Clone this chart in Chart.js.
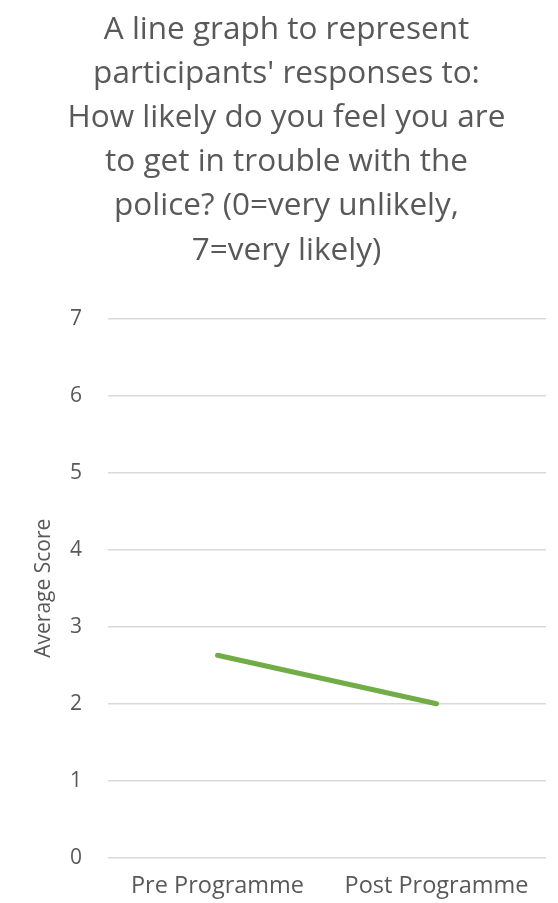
<!DOCTYPE html>
<html>
<head>
<meta charset="utf-8">
<script src="https://cdn.jsdelivr.net/npm/chart.js@4/dist/chart.umd.min.js"></script>
<style>
  html, body { margin: 0; padding: 0; background: #fff; }
  #wrap { width: 558px; height: 903px; }
</style>
</head>
<body>
<div id="wrap"><canvas id="chart"></canvas></div>
<script>
// data
const titleLines = [
  'A line graph to represent',
  "participants' responses to:",
  'How likely do you feel you are',
  'to get in trouble with the',
  'police? (0=very unlikely,',
  '7=very likely)',
];
const categories = ['Pre Programme', 'Post Programme'];
const averageScore = [2.63, 2.0];
const yTicks = [0, 1, 2, 3, 4, 5, 6, 7];

const grey = '#595959';
const font = "'Open Sans', 'Liberation Sans', sans-serif";

new Chart(document.getElementById('chart'), {
  type: 'line',
  data: {
    labels: categories,
    datasets: [{
      label: 'Average Score',
      data: averageScore,
      borderColor: '#70ad47',
      borderWidth: 5,
      borderCapStyle: 'round',
      pointRadius: 0,
      tension: 0,
    }],
  },
  options: {
    responsive: true,
    maintainAspectRatio: false,
    animation: false,
    layout: {padding: {top: 8, right: 12, bottom: -11, left: 27}},
    plugins: {
      legend: {display: false},
      tooltip: {enabled: false},
      title: {
        display: true,
        text: titleLines,
        color: grey,
        font: {family: font, size: 31.5, weight: 'normal', lineHeight: 1.4},
        padding: {top: 0, bottom: 46},
      },
    },
    scales: {
      x: {
        offset: true,
        grid: {display: false, drawTicks: false},
        border: {display: false},
        ticks: {color: grey, font: {family: font, size: 23.5}, padding: 14, maxRotation: 0},
      },
      y: {
        min: 0,
        max: 7,
        afterBuildTicks: (s) => { s.ticks = yTicks.map((v) => ({value: v})); },
        afterFit: (s) => { s.width = 81; },
        grid: {color: '#d9d9d9', lineWidth: 1.5, drawTicks: false},
        border: {display: false},
        ticks: {color: grey, font: {family: font, size: 21}, padding: 26},
        title: {display: true, text: 'Average Score', color: grey, font: {family: font, size: 21}},
      },
    },
  },
});
</script>
</body>
</html>
